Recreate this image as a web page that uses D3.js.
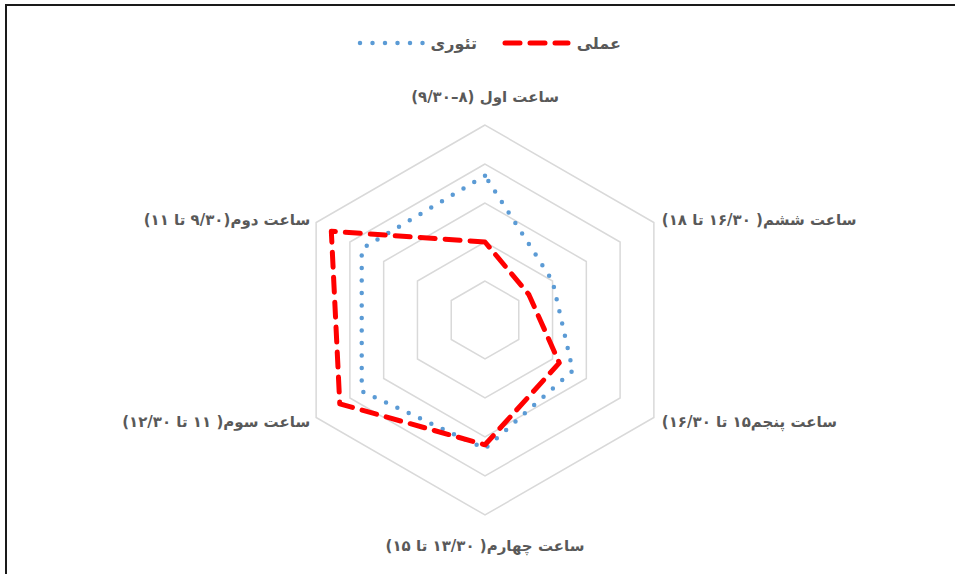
<!DOCTYPE html>
<html>
<head>
<meta charset="utf-8">
<script src="https://cdn.jsdelivr.net/npm/d3@7"></script>
<style>
  body { margin: 0; background: #fff; }
  svg text { font-family: "DejaVu Sans", sans-serif; font-weight: bold; fill: #595959; }
</style>
</head>
<body>
<svg id="chart" width="955" height="574"></svg>
<script>
const categories = [
  "ساعت اول (۸–۹/۳۰)",
  "ساعت دوم(۹/۳۰ تا ۱۱)",
  "ساعت سوم( ۱۱ تا ۱۲/۳۰)",
  "ساعت چهارم( ۱۳/۳۰ تا ۱۵)",
  "ساعت پنجم۱۵ تا ۱۶/۳۰)",
  "ساعت ششم( ۱۶/۳۰ تا ۱۸)"
];
const theory = [3.7, 3.65, 3.65, 3.3, 2.6, 2.0];
const actual = [2.0, 4.55, 4.3, 3.2, 2.2, 1.3];
const ringTicks = [1, 2, 3, 4, 5];
const seriesNames = ["تئوری", "عملی"];

const svg = d3.select("#chart");
const cx = 485, cy = 320;

// chart frame
svg.append("rect")
  .attr("x", 6).attr("y", 5)
  .attr("width", 1000).attr("height", 700)
  .attr("fill", "none")
  .attr("stroke", "#1a1a1a")
  .attr("stroke-width", 2);

const r = d3.scaleLinear().domain([0, 5]).range([0, 195]);
const angle = i => -i * Math.PI / 3;

const g = svg.append("g").attr("transform", `translate(${cx},${cy})`);

// grid rings
const ring = d3.lineRadial()
  .angle((d, i) => angle(i))
  .radius(d => r(d))
  .curve(d3.curveLinearClosed);

g.append("g").attr("class", "grid")
  .selectAll("path")
  .data(ringTicks)
  .join("path")
  .attr("d", t => ring(categories.map(() => t)))
  .attr("fill", "none")
  .attr("stroke", "#d9d9d9")
  .attr("stroke-width", 1.5);

// series
const series = [
  { name: seriesNames[0], values: theory, color: "#5b9bd5", dash: "0 12.5", width: 4.5 },
  { name: seriesNames[1], values: actual, color: "#ff0000", dash: "15 10", width: 5 }
];

g.append("g").attr("class", "series")
  .selectAll("path")
  .data(series)
  .join("path")
  .attr("d", s => ring(s.values))
  .attr("fill", "none")
  .attr("stroke", s => s.color)
  .attr("stroke-width", s => s.width)
  .attr("stroke-dasharray", s => s.dash)
  .attr("stroke-linecap", "round")
  .attr("stroke-linejoin", "round");

// axis labels
const labelPos = [
  { dx: 0, dy: -23, anchor: "middle" },
  { dx: -6, dy: 2, anchor: "start" },
  { dx: -6, dy: 9, anchor: "start" },
  { dx: 0, dy: 36, anchor: "middle" },
  { dx: 8, dy: 9, anchor: "end" },
  { dx: 8, dy: 2, anchor: "end" }
];

g.append("g").attr("class", "labels")
  .selectAll("text")
  .data(categories)
  .join("text")
  .attr("direction", "rtl")
  .attr("x", (d, i) => r(5) * Math.sin(angle(i)) + labelPos[i].dx)
  .attr("y", (d, i) => -r(5) * Math.cos(angle(i)) + labelPos[i].dy)
  .attr("text-anchor", (d, i) => labelPos[i].anchor)
  .attr("font-size", 15)
  .text(d => d);

// legend
const legend = svg.append("g").attr("class", "legend");
const legendItems = [
  { s: series[0], x1: 360, x2: 428, tx: 477 },
  { s: series[1], x1: 505, x2: 568, tx: 621 }
];
legend.selectAll("line")
  .data(legendItems)
  .join("line")
  .attr("x1", d => d.x1).attr("x2", d => d.x2)
  .attr("y1", 43).attr("y2", 43)
  .attr("stroke", d => d.s.color)
  .attr("stroke-width", d => d.s.width)
  .attr("stroke-dasharray", d => d.s.dash)
  .attr("stroke-linecap", "round");
legend.selectAll("text")
  .data(legendItems)
  .join("text")
  .attr("direction", "rtl")
  .attr("x", d => d.tx)
  .attr("y", 49)
  .attr("text-anchor", "start")
  .attr("font-size", 16)
  .text(d => d.s.name);
</script>
</body>
</html>
